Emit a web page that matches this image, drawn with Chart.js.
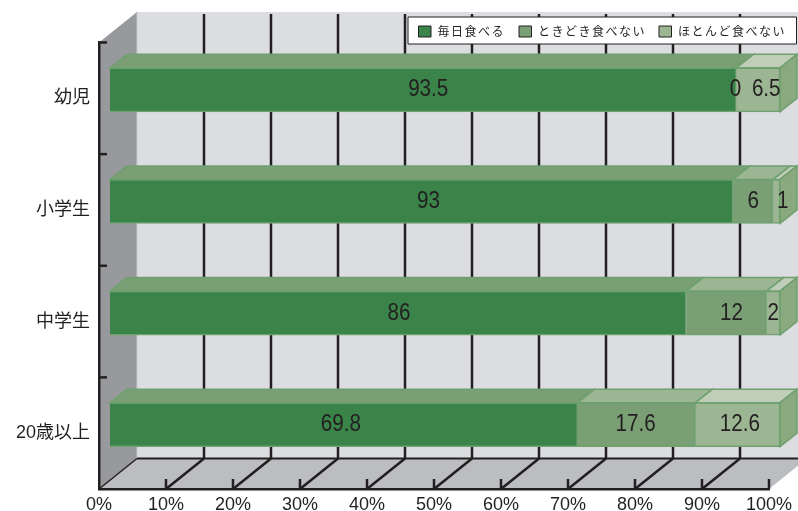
<!DOCTYPE html>
<html>
<head>
<meta charset="utf-8">
<style>
    html, body { margin: 0; padding: 0; background: #fff; }
    canvas { display: block; }
</style>
<script src="https://cdn.jsdelivr.net/npm/chart.js@4"></script>
</head>
<body>
<canvas id="chart" width="798" height="511"></canvas>
<script>
// Values
const categories = ['幼児', '小学生', '中学生', '20歳以上'];
const everyDay = [93.5, 93, 86, 69.8];
const sometimes = [0, 6, 12, 17.6];
const rarely = [6.5, 1, 2, 12.6];
const seriesNames = ['毎日食べる', 'ときどき食べない', 'ほとんど食べない'];
const xTicks = [0, 10, 20, 30, 40, 50, 60, 70, 80, 90, 100];

const frontColors = ['#3a8349', '#7a9f74', '#9cb693'];
const topColors = ['#7a9f74', '#9cb693', '#c0cdb9'];
const sideColor = '#8aa97f';
const edgeColor = '#6fa070';
const inkColor = '#231f20';

// how far the back wall sits from the front plane, and the bars from that plane
const wallDx = 38, wallDy = -30.5;
const barDx = 11, barDy = -8.5;
const barDepthX = 17, barDepthY = -13.5;

// the value labels are not quite centred in the original (per series, per category)
const labelNudge = [[5, 7, 1, -3], [-1, 0, 5, -1], [8, 6, 0, 2]];

function poly(ctx, pts, fill, stroke, w) {
    ctx.beginPath();
    pts.forEach((p, i) => i ? ctx.lineTo(p[0], p[1]) : ctx.moveTo(p[0], p[1]));
    ctx.closePath();
    if (fill) { ctx.fillStyle = fill; ctx.fill(); }
    if (stroke) { ctx.strokeStyle = stroke; ctx.lineWidth = w || 1; ctx.stroke(); }
}

function line(ctx, x1, y1, x2, y2, w, color) {
    ctx.beginPath();
    ctx.moveTo(x1, y1);
    ctx.lineTo(x2, y2);
    ctx.strokeStyle = color || inkColor;
    ctx.lineWidth = w || 2;
    ctx.stroke();
}

// walls, floor, grid and inward ticks
const box3d = {
    id: 'box3d',
    beforeDraw(chart) {
        const { ctx, chartArea: a, scales: { x } } = chart;
        const bx = wallDx, by = wallDy;
        ctx.save();
        poly(ctx, [[a.left + bx, a.top + by], [a.right + bx, a.top + by], [a.right + bx, a.bottom + by], [a.left + bx, a.bottom + by]], '#dcdde0');
        poly(ctx, [[a.left, a.top], [a.left + bx, a.top + by], [a.left + bx, a.bottom + by], [a.left, a.bottom]], '#98999c');
        poly(ctx, [[a.left, a.bottom], [a.left + bx, a.bottom + by], [a.right + bx, a.bottom + by], [a.right, a.bottom]], '#bcbdc1');
        line(ctx, a.left + bx, a.top + by, a.left + bx, a.bottom + by, 1, '#c8c9cb');

        line(ctx, a.left + bx, a.bottom + by, a.right + bx, a.bottom + by, 2);
        line(ctx, a.left, a.bottom, a.left + bx, a.bottom + by, 1.5);
        xTicks.slice(1, -1).forEach(v => {
            const px = x.getPixelForValue(v);
            line(ctx, px + bx, a.top + by + 2, px + bx, a.bottom + by, 2.5);
            line(ctx, px, a.bottom, px + bx, a.bottom + by, 2.5);
        });
        xTicks.slice(1).forEach(v => {
            const px = x.getPixelForValue(v);
            line(ctx, px, a.bottom, px, a.bottom - 10, 2.5);
        });
        const step = (a.bottom - a.top) / categories.length;
        for (let i = 0; i < categories.length; i++) {
            line(ctx, a.left, a.top + step * i, a.left + 8, a.top + step * i, 2.5);
        }
        ctx.restore();
    },
    beforeDatasetsDraw(chart) {
        chart.ctx.save();
        chart.ctx.translate(barDx, barDy);
    },
    afterDatasetsDraw(chart) {
        const { ctx, data } = chart;
        const dx = barDepthX, dy = barDepthY;
        categories.forEach((c, i) => {
            let last = null;
            data.datasets.forEach((ds, d) => {
                const bar = chart.getDatasetMeta(d).data[i];
                if (!ds.data[i]) return;
                const top = bar.y - bar.height / 2;
                poly(ctx, [[bar.base, top], [bar.base + dx, top + dy], [bar.x + dx, top + dy], [bar.x, top]], topColors[d], edgeColor, 1.5);
                last = bar;
            });
            const t = last.y - last.height / 2, b = last.y + last.height / 2;
            poly(ctx, [[last.x, t], [last.x + dx, t + dy], [last.x + dx, b + dy], [last.x, b]], sideColor, edgeColor, 1.5);

            // values, zero included; squeezed because the original face is condensed
            data.datasets.forEach((ds, d) => {
                const bar = chart.getDatasetMeta(d).data[i];
                ctx.save();
                ctx.translate((bar.base + bar.x) / 2 + labelNudge[d][i], bar.y);
                ctx.scale(0.86, 1);
                ctx.font = '24px "Liberation Sans"';
                ctx.fillStyle = inkColor;
                ctx.textAlign = 'center';
                ctx.textBaseline = 'middle';
                ctx.fillText(String(ds.data[i]), 0, 0);
                ctx.restore();
            });
        });
        ctx.restore();
    },
    afterDraw(chart) {
        const { ctx } = chart;
        ctx.save();
        poly(ctx, [[408, 17], [796.5, 17], [796.5, 44], [408, 44]], '#fff', inkColor);
        const swatchX = [418.5, 519, 659];
        ctx.font = '12px "Noto Sans CJK JP"';
        ctx.letterSpacing = '1.5px';
        ctx.textAlign = 'left';
        ctx.textBaseline = 'middle';
        chart.data.datasets.forEach((ds, d) => {
            poly(ctx, [[swatchX[d], 26], [swatchX[d] + 12.5, 26], [swatchX[d] + 12.5, 37], [swatchX[d], 37]], frontColors[d], inkColor);
            ctx.fillStyle = inkColor;
            ctx.fillText(ds.label, swatchX[d] + 19, 31.5);
        });
        ctx.restore();
    }
};

new Chart(document.getElementById('chart'), {
    type: 'bar',
    data: {
        labels: categories,
        datasets: [
            { label: seriesNames[0], data: everyDay, backgroundColor: frontColors[0], borderColor: edgeColor, borderWidth: 1.5, barThickness: 44 },
            { label: seriesNames[1], data: sometimes, backgroundColor: frontColors[1], borderColor: edgeColor, borderWidth: 1.5, barThickness: 44 },
            { label: seriesNames[2], data: rarely, backgroundColor: frontColors[2], borderColor: edgeColor, borderWidth: 1.5, barThickness: 44 }
        ]
    },
    options: {
        indexAxis: 'y',
        responsive: false,
        animation: false,
        layout: { padding: { top: 42.5, right: 29, left: 0, bottom: 0 } },
        plugins: { legend: { display: false }, tooltip: { enabled: false } },
        scales: {
            x: {
                stacked: true,
                min: 0,
                max: 100,
                grid: { display: false, drawTicks: false },
                border: { color: inkColor, width: 2.5 },
                afterFit(scale) { scale.height = 22; },
                afterBuildTicks(scale) { scale.ticks = xTicks.map(v => ({ value: v })); },
                ticks: {
                    autoSkip: false,
                    maxRotation: 0,
                    padding: 5,
                    color: inkColor,
                    font: { family: '"Liberation Sans"', size: 18 },
                    callback: v => v + '%'
                }
            },
            y: {
                stacked: true,
                grid: { display: false, drawTicks: false },
                border: { color: inkColor, width: 2.5 },
                afterFit(scale) { scale.width = 99; },
                ticks: {
                    padding: 9,
                    color: inkColor,
                    font: { family: '"Liberation Sans", "Noto Sans CJK JP"', size: 18 }
                }
            }
        }
    },
    plugins: [box3d]
});
</script>
</body>
</html>
